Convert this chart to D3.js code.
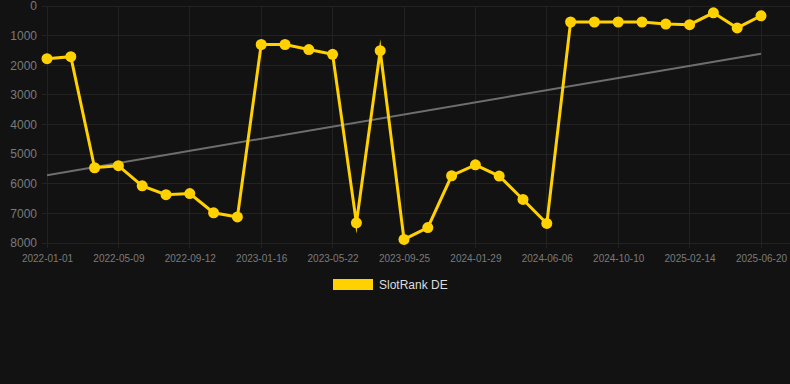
<!DOCTYPE html>
<html>
<head>
<meta charset="utf-8">
<title>SlotRank DE</title>
<script src="https://cdn.jsdelivr.net/npm/d3@7"></script>
<style>
body{
  margin:0;
  background:#121212;
  font-family:"Liberation Sans", Arial, sans-serif}

svg{
  display:block}

.grid line{
  stroke:#222;
  stroke-width:1;
  shape-rendering:crispEdges}

.axis text{
  fill:#7a7a7a}

.legend text{
  fill:#dddddd;
  font-size:12px}
</style>
</head>
<body>
<script>
// Dates (categories), one every ~6 weeks.
const dates = [
  '2022-01-01','2022-02-12','2022-03-26','2022-05-09','2022-06-20','2022-08-01',
  '2022-09-12','2022-10-24','2022-12-05','2023-01-16','2023-02-27','2023-04-10',
  '2023-05-22','2023-07-03','2023-08-14','2023-09-25','2023-11-06','2023-12-18',
  '2024-01-29','2024-03-12','2024-04-24','2024-06-06','2024-07-18','2024-08-29',
  '2024-10-10','2024-11-21','2025-01-02','2025-02-14','2025-03-28','2025-05-09',
  '2025-06-20'
]

// SlotRank DE values.
const rank = [
  1780, 1710, 5460, 5390, 6070, 6370, 6330, 6980, 7120, 1300, 1300, 1470,
  1630, 7320, 1510, 7880, 7480, 5730, 5360, 5740, 6530, 7340, 540, 540,
  540, 540, 610, 630, 230, 740, 330
]

// Trend line endpoints (first and last date).
const trend = [5710, 1610]

const yTicks = [0, 1000, 2000, 3000, 4000, 5000, 6000, 7000, 8000]
const xTicks = dates.filter((d, i) => i % 3 === 0)

const W = 790, H = 384
const margin = { top: 6, right: 29, bottom: 141, left: 47 }
const width = W - margin.left - margin.right
const height = H - margin.top - margin.bottom

const svg = d3.select('body')
  .append('svg')
    .attr('width', W)
    .attr('height', H)

const g = svg.append('g')
    .attr('transform', `translate(${margin.left}, ${margin.top})`)

// Scales.
const x = d3.scalePoint().domain(dates).range([0, width])
const y = d3.scaleLinear().domain([0, 8000]).range([0, height])

// Grid lines.
g.append('g')
    .attr('class', 'grid')
  .selectAll('line.h')
  .data(yTicks)
  .enter().append('line')
    .attr('x1', -5)
    .attr('x2', W - margin.left)
    .attr('y1', d => y(d))
    .attr('y2', d => y(d))

g.append('g')
    .attr('class', 'grid')
  .selectAll('line.v')
  .data(xTicks)
  .enter().append('line')
    .attr('x1', d => x(d))
    .attr('x2', d => x(d))
    .attr('y1', 0)
    .attr('y2', height + 5)

// Y axis.
const yAxis = g.append('g')
    .attr('class', 'axis')
    .call(d3.axisLeft(y).tickValues(yTicks).tickFormat(d3.format('d')).tickSize(0).tickPadding(10))
yAxis.select('.domain').remove()
yAxis.selectAll('text').style('font-size', '12px')

// X axis.
const xAxis = g.append('g')
    .attr('class', 'axis')
    .attr('transform', `translate(0, ${height})`)
    .call(d3.axisBottom(x).tickValues(xTicks).tickSize(0).tickPadding(12))
xAxis.select('.domain').remove()
xAxis.selectAll('text').style('font-size', '10px')

// Trend line.
g.append('line')
    .attr('x1', x(dates[0]))
    .attr('x2', x(dates[dates.length - 1]))
    .attr('y1', y(trend[0]))
    .attr('y2', y(trend[1]))
    .style('stroke', '#6e6e6e')
    .style('stroke-width', 2)

// Main line.
const line = d3.line()
    .x((d, i) => x(dates[i]))
    .y(d => y(d))

g.append('path')
    .datum(rank)
    .attr('d', line)
    .style('fill', 'none')
    .style('stroke', '#ffd100')
    .style('stroke-width', 3)
    .style('stroke-linejoin', 'miter')
    .style('stroke-miterlimit', 10)

g.selectAll('circle.pt')
  .data(rank)
  .enter().append('circle')
    .attr('class', 'pt')
    .attr('cx', (d, i) => x(dates[i]))
    .attr('cy', d => y(d))
    .attr('r', 5.5)
    .style('fill', '#ffd100')

// Legend.
const legend = svg.append('g')
    .attr('class', 'legend')
    .attr('transform', 'translate(333, 279)')

legend.append('rect')
    .attr('width', 40)
    .attr('height', 11)
    .style('fill', '#ffd100')

legend.append('text')
    .attr('x', 46)
    .attr('y', 10)
    .text('SlotRank DE')
</script>
</body>
</html>
